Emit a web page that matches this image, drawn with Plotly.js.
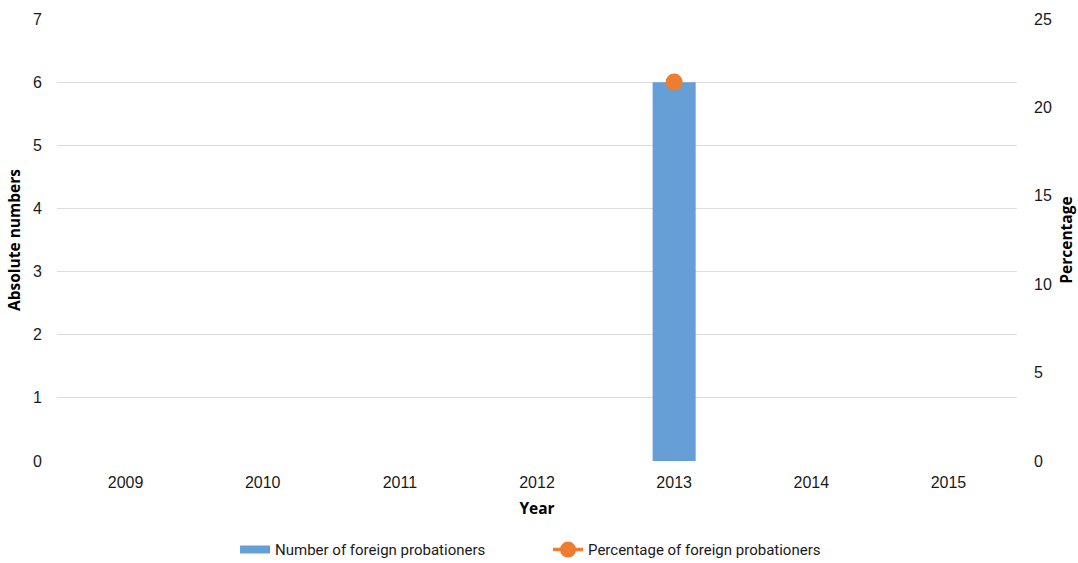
<!DOCTYPE html>
<html>
<head>
<meta charset="utf-8">
<script src="https://cdn.plot.ly/plotly-3.0.1.min.js"></script>
<style>html,body{margin:0;padding:0;background:#fff;}#chart{width:1078px;height:563px;}</style>
</head>
<body>
<div id="chart"></div>
<script>
const years = ['2009','2010','2011','2012','2013','2014','2015'];
const foreignProbationers = [0, 0, 0, 0, 6, 0, 0];
const foreignPercentage = [null, null, null, null, 21.43, null, null];
const leftTicks = [0,1,2,3,4,5,6,7];
const rightTicks = [0,5,10,15,20,25];
const barName = 'Number of foreign probationers';
const lineName = 'Percentage of foreign probationers';

const tickFont = {family: 'Liberation Sans, Arial, sans-serif', size: 16, color: '#1a1a1a'};
const titleFont = {family: 'Open Sans, Segoe UI, sans-serif', size: 15.5, color: '#000', weight: 'bold'};

const data = [
  {
    type: 'bar', x: years, y: foreignProbationers, name: barName,
    marker: {color: '#659fd5'}, yaxis: 'y', showlegend: false
  },
  {
    // legend-only entry to show a wide bar swatch like the original
    type: 'scatter', mode: 'lines', x: years, y: years.map(() => null), name: barName,
    line: {color: '#659fd5', width: 8}, yaxis: 'y', legendrank: 1
  },
  {
    type: 'scatter', mode: 'lines+markers', x: years, y: foreignPercentage,
    name: lineName, yaxis: 'y2', legendrank: 2,
    line: {color: '#ed7d31', width: 3.5}, marker: {color: '#ed7d31', size: 17}
  }
];

const layout = {
  width: 1078, height: 563,
  margin: {l: 57, r: 61, t: 19, b: 102, autoexpand: false},
  paper_bgcolor: '#fff', plot_bgcolor: '#fff',
  bargap: 0.686,
  showlegend: true,
  legend: {
    orientation: 'h', x: 0.5115, xanchor: 'center', y: -0.201, yanchor: 'middle',
    font: {family: 'Roboto, sans-serif', size: 15, color: '#1a1a1a'},
    itemwidth: 30, entrywidth: 268, traceorder: 'normal'
  },
  xaxis: {
    type: 'category', showgrid: false, zeroline: false, showline: false,
    ticks: '', tickfont: tickFont, ticklabelstandoff: 10,
    title: {text: 'Year', font: titleFont, standoff: 13}
  },
  yaxis: {
    range: [0, 7], tickvals: leftTicks, showgrid: true, gridcolor: '#dcdcdc', gridwidth: 1,
    zeroline: false, showline: false, ticks: '', tickfont: tickFont,
    ticklabelstandoff: 14,
    title: {text: 'Absolute numbers', font: titleFont, standoff: 8}
  },
  yaxis2: {
    range: [0, 25], tickvals: rightTicks, overlaying: 'y', side: 'right',
    showgrid: false, zeroline: false, showline: false, ticks: '', tickfont: tickFont,
    ticklabelstandoff: 16,
    title: {text: 'Percentage', font: titleFont, standoff: 10}
  }
};

Plotly.newPlot('chart', data, layout, {displayModeBar: false, staticPlot: true});
</script>
</body>
</html>
